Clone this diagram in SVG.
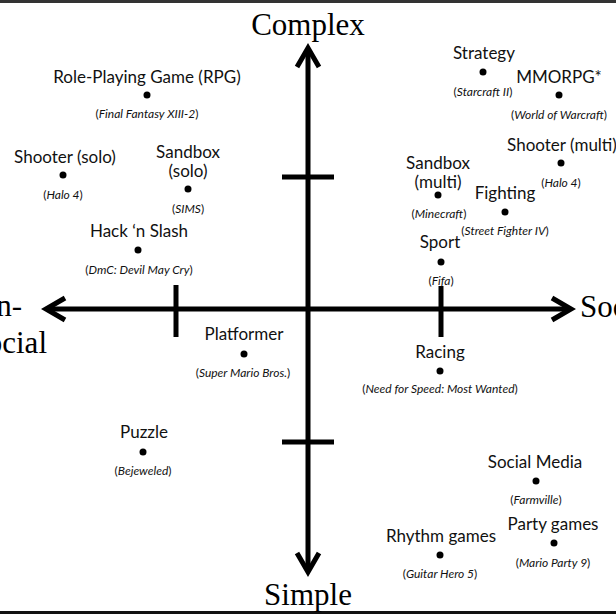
<svg xmlns="http://www.w3.org/2000/svg" width="616" height="616" viewBox="0 0 616 616">
<style>
.ax{stroke:#000;stroke-width:5;fill:none}
.hd{stroke:#000;stroke-width:5;fill:none;stroke-linejoin:miter;stroke-linecap:butt}
.big{font-family:"Liberation Serif","Times New Roman",serif;font-size:31px;fill:#000}
.lb{font-family:Lato,"Liberation Sans",sans-serif;font-size:17px;fill:#111;text-anchor:middle}
.sb{font-family:Lato,"Liberation Sans",sans-serif;font-size:12px;fill:#111;text-anchor:middle}
.it{font-style:italic}
.dot{fill:#000}
</style>
<rect width="616" height="616" fill="#fff"/>
<line x1="0" y1="1.5" x2="616" y2="1.5" stroke="#333" stroke-width="3"/>
<line x1="0" y1="612.5" x2="616" y2="612.5" stroke="#111" stroke-width="3"/>

<g id="axis-labels">
<text class="big" x="308" y="35" text-anchor="middle">Complex</text>
<text class="big" x="308" y="605" text-anchor="middle">Simple</text>
<text class="big" x="580" y="317">Social</text>
<text class="big" x="22" y="316" text-anchor="end">Non-</text>
<text class="big" x="47" y="353" text-anchor="end">social</text>
</g>

<g id="connectors">
<line class="ax" x1="308" y1="50" x2="308" y2="570"/>
<line class="ax" x1="48" y1="309" x2="569" y2="309"/>
<polyline class="hd" points="297,67 308,48 319,67"/>
<polyline class="hd" points="297,553 308,572 319,553"/>
<polyline class="hd" points="65,298 46,309 65,320"/>
<polyline class="hd" points="552,298 571,309 552,320"/>
<line class="ax" x1="282" y1="177" x2="334" y2="177"/>
<line class="ax" x1="282" y1="442" x2="334" y2="442"/>
<line class="ax" x1="176" y1="285" x2="176" y2="337"/>
</g>

<g id="rpg">
<text class="lb" x="147" y="83">Role-Playing Game (RPG)</text>
<circle class="dot" cx="147" cy="95" r="3.5"/>
<text class="sb" x="147" y="118">(<tspan class="it">Final Fantasy XIII-2</tspan>)</text>
</g>
<g id="shooter-solo">
<text class="lb" x="65" y="163">Shooter (solo)</text>
<circle class="dot" cx="63" cy="175" r="3.5"/>
<text class="sb" x="63" y="199">(<tspan class="it">Halo 4</tspan>)</text>
</g>
<g id="sandbox-solo">
<text class="lb" x="188" y="158">Sandbox</text>
<text class="lb" x="188" y="177">(solo)</text>
<circle class="dot" cx="188" cy="189" r="3.5"/>
<text class="sb" x="188" y="213">(<tspan class="it">SIMS</tspan>)</text>
</g>
<g id="hack-n-slash">
<text class="lb" x="139" y="237">Hack ‘n Slash</text>
<circle class="dot" cx="138" cy="250" r="3.5"/>
<text class="sb" x="139" y="274">(<tspan class="it">DmC: Devil May Cry</tspan>)</text>
</g>
<g id="platformer">
<text class="lb" x="244" y="340">Platformer</text>
<circle class="dot" cx="244" cy="354" r="3.5"/>
<text class="sb" x="243" y="377">(<tspan class="it">Super Mario Bros.</tspan>)</text>
</g>
<g id="puzzle">
<text class="lb" x="144" y="438">Puzzle</text>
<circle class="dot" cx="143" cy="452" r="3.5"/>
<text class="sb" x="143" y="475">(<tspan class="it">Bejeweled</tspan>)</text>
</g>
<g id="strategy">
<text class="lb" x="484" y="59">Strategy</text>
<circle class="dot" cx="483" cy="72" r="3.5"/>
<text class="sb" x="483" y="96">(<tspan class="it">Starcraft II</tspan>)</text>
</g>
<g id="mmorpg">
<text class="lb" x="559" y="83">MMORPG*</text>
<circle class="dot" cx="559" cy="95" r="3.5"/>
<text class="sb" x="559" y="119">(<tspan class="it">World of Warcraft</tspan>)</text>
</g>
<g id="shooter-multi">
<text class="lb" x="562" y="151">Shooter (multi)</text>
<circle class="dot" cx="561" cy="163" r="3.5"/>
<text class="sb" x="561" y="187">(<tspan class="it">Halo 4</tspan>)</text>
</g>
<g id="sandbox-multi">
<text class="lb" x="438" y="169">Sandbox</text>
<text class="lb" x="438" y="188">(multi)</text>
<circle class="dot" cx="438" cy="195" r="3.5"/>
<text class="sb" x="439" y="218">(<tspan class="it">Minecraft</tspan>)</text>
</g>
<g id="fighting">
<text class="lb" x="505" y="199">Fighting</text>
<circle class="dot" cx="505" cy="212" r="3.5"/>
<text class="sb" x="505" y="235">(<tspan class="it">Street Fighter IV</tspan>)</text>
</g>
<g id="sport">
<text class="lb" x="440" y="248">Sport</text>
<circle class="dot" cx="441" cy="262" r="3.5"/>
<text class="sb" x="441" y="285">(<tspan class="it">Fifa</tspan>)</text>
</g>
<g id="racing">
<text class="lb" x="440" y="358">Racing</text>
<circle class="dot" cx="440" cy="371" r="3.5"/>
<text class="sb" x="440" y="393">(<tspan class="it">Need for Speed: Most Wanted</tspan>)</text>
</g>
<g id="social-media">
<text class="lb" x="535" y="468">Social Media</text>
<circle class="dot" cx="536" cy="481" r="3.5"/>
<text class="sb" x="536" y="504">(<tspan class="it">Farmville</tspan>)</text>
</g>
<g id="party-games">
<text class="lb" x="553" y="530">Party games</text>
<circle class="dot" cx="554" cy="543" r="3.5"/>
<text class="sb" x="553" y="567">(<tspan class="it">Mario Party 9</tspan>)</text>
</g>
<g id="rhythm-games">
<text class="lb" x="441" y="542">Rhythm games</text>
<circle class="dot" cx="440" cy="555" r="3.5"/>
<text class="sb" x="440" y="578">(<tspan class="it">Guitar Hero 5</tspan>)</text>
</g>
<g id="tick-social">
<line class="ax" x1="441" y1="286" x2="441" y2="337"/>
</g>
</svg>
